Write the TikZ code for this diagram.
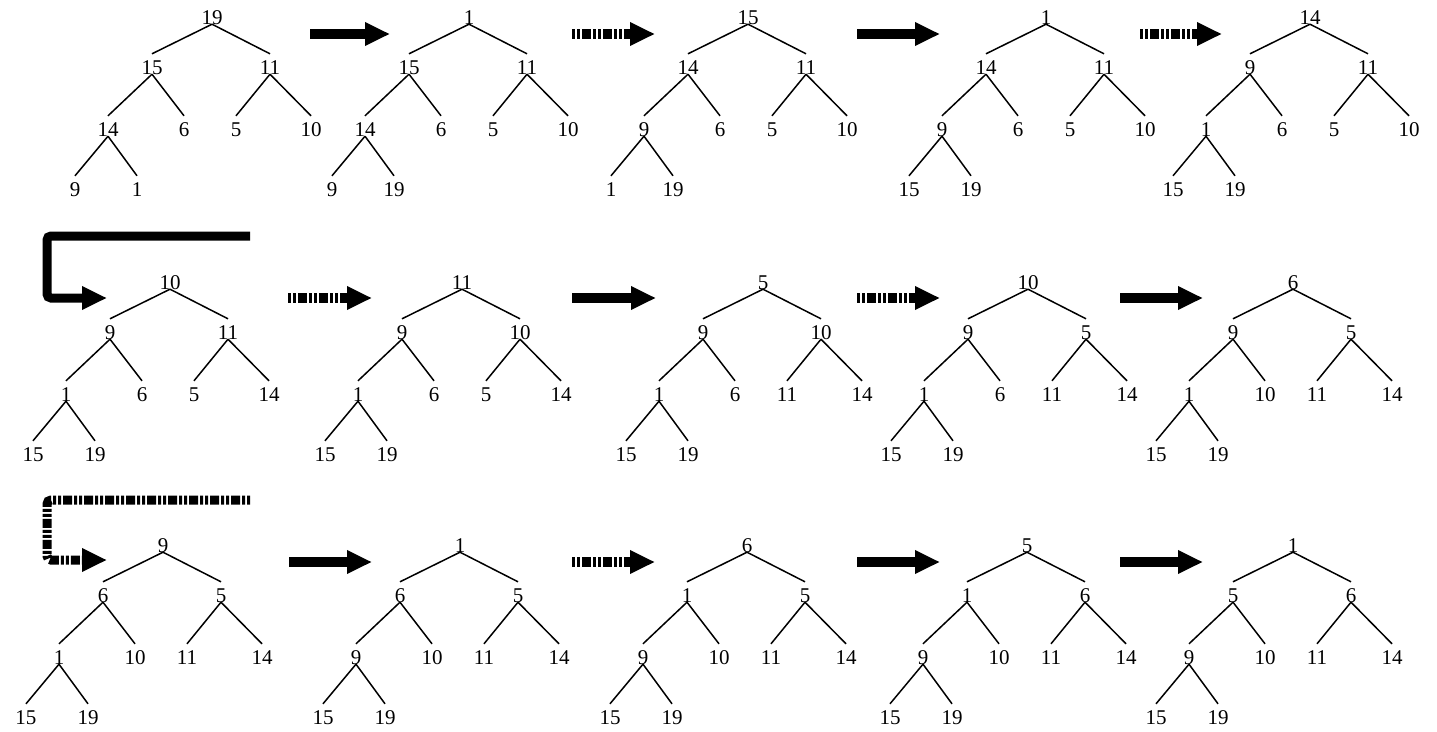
\documentclass[tikz,border=0pt]{standalone}
\usepackage{fontspec}
\setmainfont{Liberation Serif}
\usetikzlibrary{arrows.meta}

\tikzset{
  key/.style={inner sep=0pt, text height=14pt, text depth=0pt, font=\fontsize{21}{24}\selectfont},
  branch/.style={line width=1.5pt},
  bigarrow/.style={line width=10pt, -{Triangle[length=25pt,width=22pt]}},
  dotarrow/.style={bigarrow, dash pattern=on 3pt off 2pt on 3pt off 2pt on 9pt off 2pt},
}

% one heap drawn as a tree: root, level 2, level 3, level 4
\newcommand{\heaptree}[9]{%
  \node[key] (a) at (0,0) {#1};
  \node[key] (b) at (-60,50) {#2};
  \node[key] (c) at (58,50) {#3};
  \node[key] (d) at (-104,112) {#4};
  \node[key] (e) at (-28,112) {#5};
  \node[key] (f) at (24,112) {#6};
  \node[key] (g) at (99,112) {#7};
  \node[key] (h) at (-137,172) {#8};
  \node[key] (i) at (-75,172) {#9};
  \draw[branch] (a.south) -- ([yshift=6pt]b.north);
  \draw[branch] (a.south) -- ([yshift=6pt]c.north);
  \draw[branch] (b.south) -- ([yshift=6pt]d.north);
  \draw[branch] (b.south) -- ([yshift=6pt]e.north);
  \draw[branch] (c.south) -- ([yshift=6pt]f.north);
  \draw[branch] (c.south) -- ([yshift=6pt]g.north);
  \draw[branch] (d.south) -- ([yshift=6pt]h.north);
  \draw[branch] (d.south) -- ([yshift=6pt]i.north);
}

\begin{document}
\begin{tikzpicture}[x=1pt, y=-1pt]
\useasboundingbox (0,0) rectangle (1437,731);

% row 1
\begin{scope}[shift={(212,17)}, name prefix=t1-]
  \heaptree{19}{15}{11}{14}{6}{5}{10}{9}{1}
\end{scope}
\begin{scope}[shift={(469,17)}, name prefix=t2-]
  \heaptree{1}{15}{11}{14}{6}{5}{10}{9}{19}
\end{scope}
\begin{scope}[shift={(748,17)}, name prefix=t3-]
  \heaptree{15}{14}{11}{9}{6}{5}{10}{1}{19}
\end{scope}
\begin{scope}[shift={(1046,17)}, name prefix=t4-]
  \heaptree{1}{14}{11}{9}{6}{5}{10}{15}{19}
\end{scope}
\begin{scope}[shift={(1310,17)}, name prefix=t5-]
  \heaptree{14}{9}{11}{1}{6}{5}{10}{15}{19}
\end{scope}

% row 2
\begin{scope}[shift={(170,282)}, name prefix=t6-]
  \heaptree{10}{9}{11}{1}{6}{5}{14}{15}{19}
\end{scope}
\begin{scope}[shift={(462,282)}, name prefix=t7-]
  \heaptree{11}{9}{10}{1}{6}{5}{14}{15}{19}
\end{scope}
\begin{scope}[shift={(763,282)}, name prefix=t8-]
  \heaptree{5}{9}{10}{1}{6}{11}{14}{15}{19}
\end{scope}
\begin{scope}[shift={(1028,282)}, name prefix=t9-]
  \heaptree{10}{9}{5}{1}{6}{11}{14}{15}{19}
\end{scope}
\begin{scope}[shift={(1293,282)}, name prefix=t10-]
  \heaptree{6}{9}{5}{1}{10}{11}{14}{15}{19}
\end{scope}

% row 3
\begin{scope}[shift={(163,545)}, name prefix=t11-]
  \heaptree{9}{6}{5}{1}{10}{11}{14}{15}{19}
\end{scope}
\begin{scope}[shift={(460,545)}, name prefix=t12-]
  \heaptree{1}{6}{5}{9}{10}{11}{14}{15}{19}
\end{scope}
\begin{scope}[shift={(747,545)}, name prefix=t13-]
  \heaptree{6}{1}{5}{9}{10}{11}{14}{15}{19}
\end{scope}
\begin{scope}[shift={(1027,545)}, name prefix=t14-]
  \heaptree{5}{1}{6}{9}{10}{11}{14}{15}{19}
\end{scope}
\begin{scope}[shift={(1293,545)}, name prefix=t15-]
  \heaptree{1}{5}{6}{9}{10}{11}{14}{15}{19}
\end{scope}

% arrows between the heaps
\coordinate (s1) at (310,34);  \coordinate (e1) at (390,34);
\coordinate (s2) at (572,34);  \coordinate (e2) at (655,34);
\coordinate (s3) at (857,34);  \coordinate (e3) at (940,34);
\coordinate (s4) at (1140,34); \coordinate (e4) at (1222,34);
\draw[bigarrow] (s1) -- (e1);
\draw[dotarrow] (s2) -- (e2);
\draw[bigarrow] (s3) -- (e3);
\draw[dotarrow] (s4) -- (e4);

\coordinate (w1) at (250,236); \coordinate (z1) at (107,298);
\draw[bigarrow, line width=9pt, rounded corners=4pt] (w1) -- ++(-203,0) |- (z1);
\coordinate (s5) at (288,298);  \coordinate (e5) at (372,298);
\coordinate (s6) at (572,298);  \coordinate (e6) at (656,298);
\coordinate (s7) at (857,298);  \coordinate (e7) at (940,298);
\coordinate (s8) at (1120,298); \coordinate (e8) at (1203,298);
\draw[dotarrow] (s5) -- (e5);
\draw[bigarrow] (s6) -- (e6);
\draw[dotarrow] (s7) -- (e7);
\draw[bigarrow] (s8) -- (e8);

\coordinate (w2) at (250,500); \coordinate (z2) at (107,560);
\draw[dotarrow, line width=9pt, rounded corners=4pt] (w2) -- ++(-203,0) |- (z2);
\coordinate (s9) at (289,562);   \coordinate (e9) at (372,562);
\coordinate (s10) at (572,562);  \coordinate (e10) at (655,562);
\coordinate (s11) at (857,562);  \coordinate (e11) at (940,562);
\coordinate (s12) at (1120,562); \coordinate (e12) at (1203,562);
\draw[bigarrow] (s9) -- (e9);
\draw[dotarrow] (s10) -- (e10);
\draw[bigarrow] (s11) -- (e11);
\draw[bigarrow] (s12) -- (e12);
\end{tikzpicture}
\end{document}
